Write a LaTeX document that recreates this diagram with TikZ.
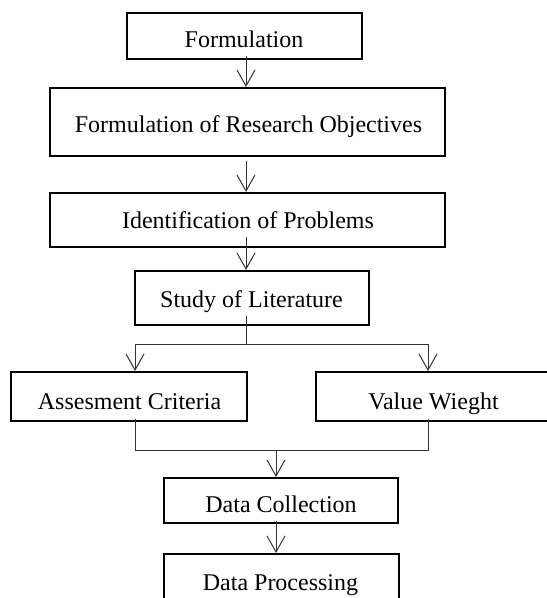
\documentclass[tikz,border=0pt]{standalone}
\usepackage{fontspec}
\setmainfont{Liberation Serif}
\usetikzlibrary{arrows.meta}
\begin{document}
\begin{tikzpicture}[x=1pt,y=-1pt,
  box/.style={draw=black, line width=2pt, inner sep=0pt, fill=white},
  lbl/.style={anchor=base, inner sep=0pt, font=\fontsize{24}{28}\selectfont},
  conn/.style={draw=black!80, line width=1pt},
  arr/.style={conn, -{Straight Barb[length=16pt,width=18pt]}}]
\useasboundingbox (0,0) rectangle (547,598);
\clip (0,0) rectangle (547,598);
% boxes
\node[box, minimum width=235pt, minimum height=46pt] (b1) at (244.5,36) {};
\node[box, minimum width=395pt, minimum height=68pt] (b2) at (247.5,122) {};
\node[box, minimum width=395pt, minimum height=54pt] (b3) at (247.5,220) {};
\node[box, minimum width=234pt, minimum height=54pt] (b4) at (252,298) {};
\node[box, minimum width=236pt, minimum height=49pt] (b5) at (129,396.5) {};
\node[box, minimum width=264pt, minimum height=49pt] (b6) at (448,396.5) {};
\node[box, minimum width=234pt, minimum height=45pt] (b7) at (281,500.5) {};
\node[box, minimum width=235pt, minimum height=50pt] (b8) at (281.5,579) {};
% labels
\node[lbl] (t1) at (244,47) {Formulation};
\node[lbl] (t2) at (248.5,132) {Formulation of Research Objectives};
\node[lbl] (t3) at (248,228) {Identification of Problems};
\node[lbl] (t4) at (251.5,307) {Study of Literature};
\node[lbl] (t5) at (129.5,409) {Assesment Criteria};
\node[lbl] (t6) at (433.5,409) {Value Wieght};
\node[lbl] (t7) at (281,512) {Data Collection};
\node[lbl] (t8) at (280.5,590) {Data Processing};
% junction coordinates
\coordinate (cx) at (246,0);
\coordinate (la) at (135,344.5);
\coordinate (ra) at (428,344.5);
\coordinate (lb) at (135,450);
\coordinate (rb) at (428,450);
\coordinate (mc) at (276,450);
% connectors
\draw[arr] (b1.south -| cx) ++(0,-4) -- (b2.north -| cx);
\draw[arr] (b2.south -| cx) ++(0,4) -- (b3.north -| cx);
\draw[arr] (b3.south -| cx) ++(0,-11) -- (b4.north -| cx);
\draw[conn] (b4.south -| cx) ++(0,-10) -- (la -| cx);
\draw[arr] (la -| cx) -- (la) -- (b5.north -| la);
\draw[arr] (la -| cx) -- (ra) -- (b6.north -| ra);
\draw[conn] (b5.south -| lb) ++(0,-3) -- (lb) -- (rb) -- ([yshift=3pt]b6.south -| rb);
\draw[arr] (mc) -- (b7.north -| mc);
\draw[arr] (b7.south -| mc) ++(0,-3) -- (b8.north -| mc);
\end{tikzpicture}
\end{document}
